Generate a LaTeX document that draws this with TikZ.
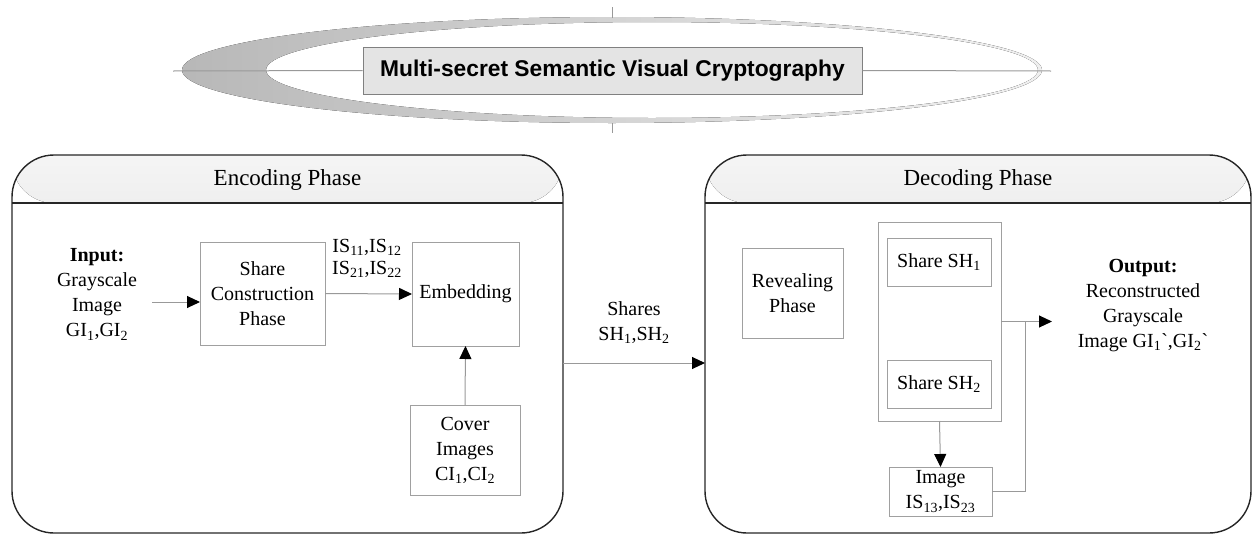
\documentclass[tikz,border=0pt]{standalone}
\usepackage{fontspec}
\setmainfont{Liberation Serif}
\newfontfamily\titlefont{Liberation Sans}
\usetikzlibrary{arrows.meta,shadings}
\definecolor{boxgray}{HTML}{A0A0A0}
\definecolor{linegray}{HTML}{999999}
\definecolor{titlefill}{HTML}{E4E4E4}
\begin{document}
\begin{tikzpicture}[x=1pt,y=-1pt,
  txt/.style={align=center,inner sep=0pt,font=\fontsize{20}{25}\selectfont},
  hdr/.style={inner sep=0pt,font=\fontsize{23}{27}\selectfont},
  boxn/.style={draw=boxgray,line width=1pt,inner sep=0pt,outer sep=0pt,align=center,
     font=\fontsize{20}{25}\selectfont},
  phase/.style={draw=black!85,line width=1.4pt,rounded corners=42pt,inner sep=0pt,outer sep=0pt,
     minimum height=378pt,
     path picture={\fill[top color=white!96!black,bottom color=black!22]
        (path picture bounding box.north west) rectangle ([yshift=-48pt]path picture bounding box.north east);}},
  conn/.style={draw=linegray,line width=1pt},
  arr/.style={conn,-{Triangle[length=13pt,width=12pt,color=black]}},
]
\useasboundingbox (0,0) rectangle (1254,536);

% ---- title swoosh ----
\fill[left color=black!28,right color=black!6,even odd rule]
  (612,70) ellipse [x radius=430,y radius=53]
  (652,70) ellipse [x radius=386,y radius=48];
\coordinate (hl) at (173,71);
\coordinate (hr) at (1051,71);
\coordinate (vt1) at (612,7);
\coordinate (vt2) at (612,18);
\coordinate (vb1) at (612,123);
\coordinate (vb2) at (612,133);
\node[draw=black!50,fill=titlefill,line width=1pt,minimum width=499pt,minimum height=47pt,inner sep=0pt,
  font=\titlefont\bfseries\fontsize{22.8}{26}\selectfont] (title) at (612.5,70.5) {Multi-secret Semantic Visual Cryptography};
\draw[conn] (hl) -- (title.west);
\draw[conn] (title.east) -- (hr);
\draw[conn] (vt1) -- (vt2);
\draw[conn] (vb1) -- (vb2);

% ---- phase boxes ----
\node[phase,minimum width=551pt] (enc) at (287.5,344) {};
\node[phase,minimum width=546pt] (dec) at (978,344) {};
\draw[black!85,line width=1.2pt] ([yshift=-48pt]enc.north west) -- ([yshift=-48pt]enc.north east);
\draw[black!85,line width=1.2pt] ([yshift=-48pt]dec.north west) -- ([yshift=-48pt]dec.north east);
\node[hdr] (enchdr) at (287.5,180) {Encoding Phase};
\node[hdr] (dechdr) at (978,180) {Decoding Phase};

% ---- encoding ----
\node[txt] (input) at (97,294.5) {\textbf{Input:}\\Grayscale\\Image\\GI\textsubscript{1},GI\textsubscript{2}};
\node[boxn,minimum width=125pt,minimum height=103pt] (sc) at (262.5,293.5) {Share\\Construction\\Phase};
\node[boxn,minimum width=107pt,minimum height=104pt] (emb) at (465.5,294) {Embedding};
\node[boxn,minimum width=110pt,minimum height=90pt] (cover) at (465,450) {Cover\\Images\\CI\textsubscript{1},CI\textsubscript{2}};
\node[txt,font=\fontsize{20}{22}\selectfont] (islab) at (367,258) {IS\textsubscript{11},IS\textsubscript{12}\\IS\textsubscript{21},IS\textsubscript{22}};
\coordinate (inarr) at (152,302);
\draw[arr] (inarr) -- (inarr -| sc.west);
\draw[arr] (sc.east) -- (emb.west);
\draw[arr] (cover.north) -- (emb.south);

% ---- between ----
\draw[arr] ([yshift=-19pt]enc.east) -- ([yshift=-19pt]dec.west);
\node[txt] (shares) at (634,322.5) {Shares\\SH\textsubscript{1},SH\textsubscript{2}};

% ---- decoding ----
\node[boxn,minimum width=101pt,minimum height=90pt] (rev) at (792.5,293) {Revealing\\Phase};
\node[boxn,minimum width=123pt,minimum height=199pt] (big) at (939.5,321.5) {};
\node[boxn,minimum width=104pt,minimum height=48pt] (sh1) at (939,262) {Share SH\textsubscript{1}};
\node[boxn,minimum width=104pt,minimum height=48pt] (sh2) at (939,384) {Share SH\textsubscript{2}};
\node[boxn,minimum width=103pt,minimum height=49pt] (img) at (940.5,491.5) {Image\\IS\textsubscript{13},IS\textsubscript{23}};
\node[txt] (output) at (1143,305.5) {\textbf{Output:}\\Reconstructed\\Grayscale\\Image GI\textsubscript{1}\textasciigrave,GI\textsubscript{2}\textasciigrave};
\coordinate (j) at (1025,321.5);
\coordinate (outtip) at (1052,321.5);
\draw[arr] (big.south) -- (img.north);
\draw[arr] (big.east) -- (outtip);
\draw[conn] (img.east) -| (j);
\end{tikzpicture}
\end{document}
